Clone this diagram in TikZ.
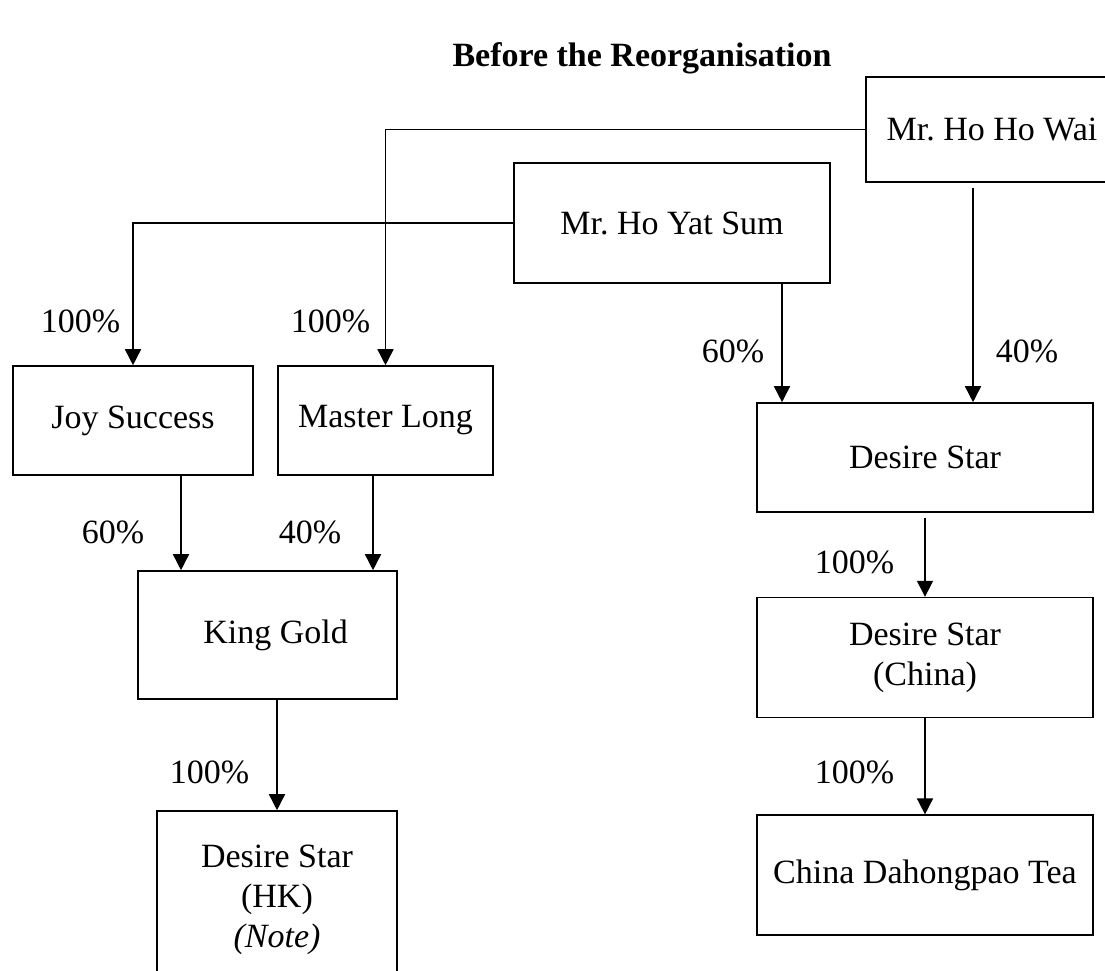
\documentclass[tikz,border=0pt]{standalone}
\usepackage{fontspec}
\setmainfont{Liberation Serif}
\usetikzlibrary{positioning}
\usetikzlibrary{arrows.meta}

\begin{document}
\begin{tikzpicture}[
            x = 1pt, y = -1pt, % page units, y goes down
            > = {Triangle[length=16pt, width=16pt]}, % arrow head style
            line width = 1.6pt,
            font = \fontsize{34}{40}\selectfont
        ]

        \tikzstyle{company}=[
            draw,
            line width = 1.6pt,
            align = center,
            inner sep = 0pt
        ]
        \tikzstyle{pct}=[inner sep = 0pt]

        \useasboundingbox (0,0) rectangle (1105,971);
        \clip (0,0) rectangle (1105,971);

        % title
        \node[anchor=base] (title) at (642,67) {\textbf{Before the Reorganisation}};

        % shareholders
        \node[company, minimum width=252pt, minimum height=105pt] (Wai) at (992,129.5) {Mr.\ Ho Ho Wai};
        \node[company, minimum width=316pt, minimum height=120pt] (YS) at (672,223) {Mr.\ Ho Yat Sum};

        % holding companies
        \node[company, minimum width=240pt, minimum height=109pt] (Joy) at (133,420.5) {Joy Success};
        \node[company, minimum width=215pt, minimum height=109pt] (Master) at (385.5,420.5) {Master Long};
        \node[company, minimum width=336pt, minimum height=109pt] (DS) at (925,457.5) {Desire Star};

        % left branch
        \node[company, minimum width=259pt, minimum height=128pt] (KG) at (267.5,635) {\hspace*{16pt}King Gold};
        \node[company, minimum width=240pt, minimum height=178pt] (HK) at (277,900) {Desire Star\\(HK)\\\textit{(Note)}};

        % right branch
        \node[company, minimum width=336pt, minimum height=120pt] (DSC) [below=84pt of DS] {Desire Star\\(China)};
        \node[company, minimum width=336pt, minimum height=120pt] (Tea) [below=96pt of DSC] {China Dahongpao Tea};

        % arrow ends off the centre
        \coordinate (ds60) at ([xshift=-143pt]DS.north);
        \coordinate (ds40) at ([xshift=48pt]DS.north);
        \coordinate (kg60) at ([xshift=-86.5pt]KG.north);
        \coordinate (kg40) at ([xshift=105.5pt]KG.north);

        \draw[->] (YS.west) -| (Joy.north);
        \draw[->] (Wai.west) -| (Master.north);
        \draw[->] (YS.south -| ds60) -- (ds60);
        \draw[->, shorten <=5pt] (Wai.south -| ds40) -- (ds40);
        \draw[->] (Joy.south -| kg60) -- (kg60);
        \draw[->] (Master.south -| kg40) -- (kg40);
        \draw[->] (KG.south -| HK.north) -- (HK.north);
        \draw[->, shorten <=5pt] (DS.south) -- (DSC.north);
        \draw[->] (DSC.south) -- (Tea.north);

        % shares
        \node[pct, anchor=base east] (pJoy) at (121,332) {100\%};
        \node[pct, anchor=base east] (pMaster) at (371,332) {100\%};
        \node[pct, anchor=base east] (pYS) at (765,362) {60\%};
        \node[pct, anchor=base west] (pWai) at (995,362) {40\%};
        \node[pct, anchor=base east] (pJoyKG) at (145,543) {60\%};
        \node[pct, anchor=base east] (pMasterKG) at (342,543) {40\%};
        \node[pct, anchor=base east] (pKG) at (250,783) {100\%};
        \node[pct, anchor=base east] (pDS) at (895,573) {100\%};
        \node[pct, anchor=base east] (pDSC) at (895,783) {100\%};

\end{tikzpicture}
\end{document}
